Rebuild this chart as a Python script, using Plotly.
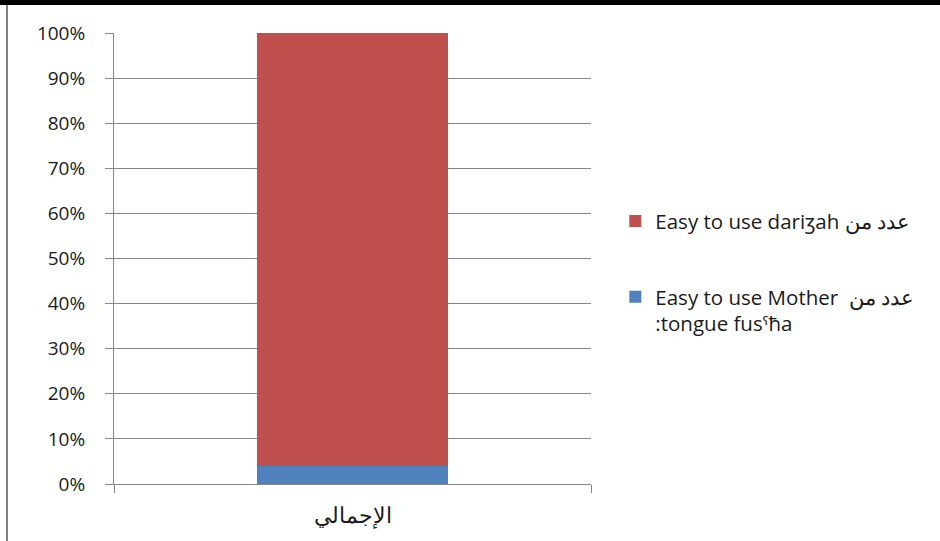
import plotly.graph_objects as go

categories = ["الإجمالي"]
mother_fusha = [4]
darija = [96]
names = ["Easy to use Mother  عدد من<br>:tongue fusˤħa", "Easy to use dariʒah عدد من"]
tick_vals = [0, 10, 20, 30, 40, 50, 60, 70, 80, 90, 100]
tick_text = [f"{v}%" for v in tick_vals]

font = "Open Sans, Noto Sans, sans-serif"
fig = go.Figure()
fig.add_trace(go.Bar(x=categories, y=mother_fusha, name=names[0], marker_color="#4F81BD",
                     marker_line_width=0, legendgroup="b", legendrank=2, width=0.4))
fig.add_trace(go.Bar(x=categories, y=darija, name=names[1], marker_color="#C0504D",
                     marker_line_width=0, legendgroup="a", legendrank=1, width=0.4))

fig.update_layout(
    barmode="stack",
    width=940, height=541,
    paper_bgcolor="white", plot_bgcolor="white",
    margin=dict(l=114, r=349, t=33, b=57),
    font=dict(family=font, size=19, color="#1a1a1a"),
    showlegend=True,
    legend=dict(x=1.051, xanchor="left", y=0.627, yanchor="top",
                traceorder="grouped", tracegroupgap=46, valign="top",
                font=dict(size=20.5), itemwidth=30, bgcolor="rgba(0,0,0,0)"),
    xaxis=dict(showline=True, linecolor="#868686", linewidth=1, ticks="outside",
               tickson="boundaries", ticklen=8, tickcolor="#868686",
               showgrid=False, tickfont=dict(size=22), ticklabelstandoff=12),
    yaxis=dict(range=[0, 100], tickvals=tick_vals, ticktext=tick_text,
               showline=True, linecolor="#868686", linewidth=1, ticks="outside",
               ticklen=8, tickcolor="#868686", showgrid=True, gridcolor="#868686",
               gridwidth=1, tickfont=dict(size=19), zeroline=False,
               ticklabelstandoff=16),
    shapes=[
        dict(type="rect", xref="paper", yref="paper", x0=-1, x1=2, y0=1.062, y1=1.3,
             fillcolor="black", line_width=0, layer="above"),
        dict(type="line", xref="paper", yref="paper", x0=-0.2243, x1=-0.2243, y0=-0.2, y1=1.062,
             line=dict(color="#7f7f7f", width=2)),
    ],
)
fig.write_html("out.html", config={"displayModeBar": False},
               post_script="document.body.style.margin='0';")
